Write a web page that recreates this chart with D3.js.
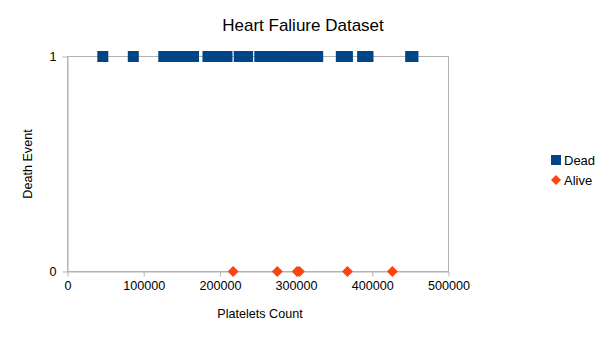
<!DOCTYPE html>
<html><head><meta charset="utf-8">
<script src="https://cdn.jsdelivr.net/npm/d3@7"></script>
<style>body{margin:0;background:#fff;} svg{display:block;font-family:"Liberation Sans",Arial,sans-serif;}</style>
</head><body>
<svg id="c" width="605" height="340"></svg>
<script>
const title = "Heart Faliure Dataset";
const xLabel = "Platelets Count";
const yLabel = "Death Event";
const xTicks = [0, 100000, 200000, 300000, 400000, 500000];
const yTicks = [0, 1];
const deadPlatelets = [265000, 263358.03, 162000, 210000, 327000, 204000, 127000, 454000, 263358.03, 388000,
  368000, 253000, 136000, 276000, 47000, 262000, 166000, 237000, 87000, 297000, 289000, 263358.03,
  149000, 196000, 284000, 153000, 200000, 263358.03, 360000, 319000, 188000, 228000, 226000, 321000,
  329000, 263358.03, 153000, 185000, 194000, 310000, 271000, 451000, 140000, 395000];
const alivePlatelets = [427000, 276000, 368000, 302000, 305000, 218000];
const seriesNames = ["Dead", "Alive"];

const svg = d3.select("#c");
const L = 67, R = 448, T = 56, B = 271;
const x = d3.scaleLinear().domain([0, 500000]).range([L, R]);
const y = d3.scaleLinear().domain([0, 1]).range([B, T]);
const gray = "#b3b3b3";
const blue = "#004586", orange = "#ff420e";

// frame
svg.append("rect").attr("x", L + 0.5).attr("y", T + 0.5).attr("width", R - L).attr("height", B - T)
  .attr("fill", "none").attr("stroke", gray).attr("stroke-width", 1);

// x axis
const xa = svg.append("g").attr("transform", `translate(0.5,${B + 0.5})`)
  .call(d3.axisBottom(x).tickValues(xTicks).tickFormat(d3.format("d")).tickSize(5).tickSizeOuter(0).tickPadding(5));
xa.select(".domain").attr("stroke", gray);
xa.selectAll(".tick line").attr("stroke", gray);
xa.selectAll("text").attr("font-size", 12.6).attr("fill", "#000").attr("font-family", "Liberation Sans, Arial, sans-serif");

// y axis
const ya = svg.append("g").attr("transform", `translate(${L + 0.5},0.5)`)
  .call(d3.axisLeft(y).tickValues(yTicks).tickFormat(d3.format("d")).tickSize(5).tickSizeOuter(0).tickPadding(6));
ya.select(".domain").attr("stroke", gray);
ya.selectAll(".tick line").attr("stroke", gray);
ya.selectAll("text").attr("font-size", 12.6).attr("fill", "#000").attr("font-family", "Liberation Sans, Arial, sans-serif");

// marks
const sq = 11;
svg.append("g").selectAll("rect").data(deadPlatelets).join("rect")
  .attr("x", d => x(d) - sq / 2).attr("y", y(1) - sq / 2 + 0.5).attr("width", sq).attr("height", sq)
  .attr("fill", blue);
const dm = 5.5;
svg.append("g").selectAll("path").data(alivePlatelets).join("path")
  .attr("transform", d => `translate(${x(d)},${y(0) + 0.5})`)
  .attr("d", `M0,${-dm}L${dm},0L0,${dm}L${-dm},0Z`).attr("fill", orange);

// title and labels
svg.append("text").attr("x", 303).attr("y", 31).attr("text-anchor", "middle")
  .attr("font-size", 17).attr("fill", "#000").text(title);
svg.append("text").attr("x", 260).attr("y", 318).attr("text-anchor", "middle")
  .attr("font-size", 12.6).attr("fill", "#000").text(xLabel);
svg.append("text").attr("transform", "translate(32,164) rotate(-90)").attr("text-anchor", "middle")
  .attr("font-size", 12.6).attr("fill", "#000").text(yLabel);

// legend
const lg = svg.append("g");
lg.append("rect").attr("x", 551).attr("y", 155).attr("width", 10).attr("height", 10).attr("fill", blue);
lg.append("text").attr("x", 564).attr("y", 165).attr("font-size", 13).attr("fill", "#000").text(seriesNames[0]);
lg.append("path").attr("transform", "translate(556,180)").attr("d", "M0,-5L5,0L0,5L-5,0Z").attr("fill", orange);
lg.append("text").attr("x", 564).attr("y", 185).attr("font-size", 13).attr("fill", "#000").text(seriesNames[1]);
</script>
</body></html>
